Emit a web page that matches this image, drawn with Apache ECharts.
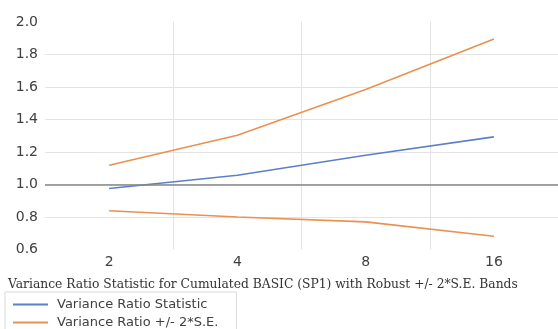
<!DOCTYPE html>
<html>
<head>
<meta charset="utf-8">
<script src="https://cdn.jsdelivr.net/npm/echarts@6/dist/echarts.min.js"></script>
<style>
  html, body { margin: 0; padding: 0; background: #fff; }
  #chart { width: 558px; height: 329px; }
</style>
</head>
<body>
<div id="chart"></div>
<script>
// lag categories
const lags = ['2', '4', '8', '16']
// variance ratio statistic
const vrStat = [0.975, 1.057, 1.18, 1.293]
// +/- 2*S.E. bands
const upperBand = [1.119, 1.303, 1.585, 1.896]
const lowerBand = [0.838, 0.800, 0.770, 0.682]

const chart = echarts.init(document.getElementById('chart'))
const grey = '#e3e3e3'
const blue = '#5B80C6'
const orange = '#EC9050'
const option = {
  animation: false,
  textStyle: { fontFamily: 'DejaVu Sans' },
  title: {
    text: 'Variance Ratio Statistic for Cumulated BASIC (SP1) with Robust +/- 2*S.E. Bands',
    left: 3,
    top: 274,
    textStyle: {
      fontFamily: 'DejaVu Serif',
      fontSize: 12.3,
      fontWeight: 'normal',
      color: '#333'
    }
  },
  legend: {
    orient: 'vertical',
    left: 5,
    top: 292,
    height: 60,
    padding: [5, 18, 5, 8],
    itemGap: 3,
    borderColor: '#d9d9d9',
    borderWidth: 1,
    icon: 'rect',
    itemWidth: 35,
    itemHeight: 2,
    textStyle: { fontFamily: 'DejaVu Sans', fontSize: 13, lineHeight: 15, color: '#404040', padding: [0, 0, 0, 4] },
    data: ['Variance Ratio Statistic', 'Variance Ratio +/- 2*S.E.']
  },
  grid: { left: 45, top: 22, width: 516, height: 227.5, containLabel: false },
  xAxis: {
    type: 'category',
    data: lags,
    boundaryGap: true,
    axisLine: { show: false },
    axisTick: { show: false },
    axisLabel: { fontSize: 14, color: '#404040', margin: 6 },
    splitLine: {
      show: true,
      lineStyle: { color: ['rgba(0,0,0,0)', grey, grey, grey, grey] }
    }
  },
  yAxis: {
    type: 'value',
    min: 0.6,
    max: 2.0,
    interval: 0.2,
    axisLine: { show: false },
    axisTick: { show: false },
    axisLabel: {
      fontSize: 14,
      color: '#404040',
      margin: 7,
      formatter: (v) => v.toFixed(1)
    },
    splitLine: {
      lineStyle: {
        color: ['rgba(0,0,0,0)', grey, grey, grey, grey, grey, grey, 'rgba(0,0,0,0)']
      }
    }
  },
  series: [
    {
      name: 'Variance Ratio Statistic',
      type: 'line',
      data: vrStat,
      symbol: 'none',
      color: blue,
      lineStyle: { width: 1.6 },
      z: 3,
      markLine: {
        silent: true,
        symbol: 'none',
        label: { show: false },
        lineStyle: { color: '#868686', width: 1.5, type: 'solid' },
        data: [{ yAxis: 1.0 }]
      }
    },
    {
      name: 'Variance Ratio +/- 2*S.E.',
      type: 'line',
      data: upperBand,
      symbol: 'none',
      color: orange,
      lineStyle: { width: 1.6 },
      z: 3
    },
    {
      name: 'Variance Ratio +/- 2*S.E.',
      type: 'line',
      data: lowerBand,
      symbol: 'none',
      color: orange,
      lineStyle: { width: 1.6 },
      z: 3
    }
  ]
}
chart.setOption(option)
</script>
</body>
</html>
